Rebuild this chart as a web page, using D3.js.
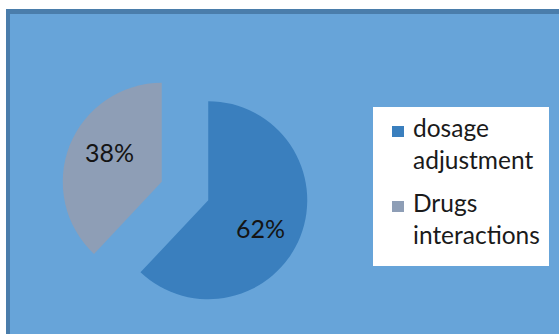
<!DOCTYPE html>
<html>
<head>
<meta charset="utf-8">
<script src="https://cdn.jsdelivr.net/npm/d3@7"></script>
<style>
  html, body { margin: 0; padding: 0; background: #fff; }
  svg { display: block; font-family: Lato, 'Open Sans', sans-serif; }
</style>
</head>
<body>
<svg id="chart" width="559" height="334"></svg>
<script>
    'use strict';

    // data
    var categories = ['dosage adjustment', 'Drugs interactions'];
    var legendLines = [['dosage', 'adjustment'], ['Drugs', 'interactions']];
    var shares = [62, 38];
    var colors = ['#3a7fbe', '#8e9eb6'];

    var svg = d3.select('#chart');

    /******************************************************************
        chart area: dark frame on top and left, light fill
     ******************************************************************/
    svg.append('rect')
        .attr('x', 6).attr('y', 9)
        .attr('width', 600).attr('height', 400)
        .attr('fill', '#4a7dab');

    svg.append('rect')
        .attr('x', 10).attr('y', 14)
        .attr('width', 600).attr('height', 400)
        .attr('fill', '#67a4d9');

    /******************************************************************
        exploded pie
     ******************************************************************/
    var cx = 185, cy = 191, r = 99, explode = 25;

    var pie = d3.pie().sort(null).value(function(d) { return d; });
    var arc = d3.arc().innerRadius(0).outerRadius(r);
    // labels sit a little past the slice middle, as in the picture
    var labelShift = 0.12;
    var labelArc = d3.arc().innerRadius(r * 0.6).outerRadius(r * 0.6);

    var slices = svg.append('g')
        .attr('transform', 'translate(' + [cx, cy] + ')')
        .selectAll('g')
        .data(pie(shares))
        .enter().append('g')
            .attr('transform', function(d) {
                var a = (d.startAngle + d.endAngle) / 2;
                return 'translate(' + [Math.sin(a) * explode, -Math.cos(a) * explode] + ')';
            });

    slices.append('path')
        .attr('d', arc)
        .attr('fill', function(d, i) { return colors[i]; });

    slices.append('text')
        .attr('transform', function(d) {
            var c = labelArc.centroid({
                startAngle: d.startAngle + labelShift,
                endAngle: d.endAngle + labelShift
            });
            return 'translate(' + c + ')';
        })
        .attr('text-anchor', 'middle')
        .attr('dy', '0.36em')
        .attr('font-size', 25)
        .attr('fill', '#141414')
        .text(function(d) { return d.value + '%'; });

    /******************************************************************
        legend
     ******************************************************************/
    var legend = svg.append('g');

    legend.append('rect')
        .attr('x', 373).attr('y', 107)
        .attr('width', 176).attr('height', 159)
        .attr('fill', '#fff');

    var items = legend.selectAll('.item')
        .data(categories)
        .enter().append('g')
            .attr('class', 'item')
            .attr('transform', function(d, i) { return 'translate(' + [392, 137 + i * 75] + ')'; });

    items.append('rect')
        .attr('x', 0).attr('y', -11)
        .attr('width', 12).attr('height', 11)
        .attr('fill', function(d, i) { return colors[i]; });

    items.append('text')
        .attr('font-size', 24.5)
        .attr('fill', '#1a1a1a')
        .selectAll('tspan')
        .data(function(d, i) { return legendLines[i]; })
        .enter().append('tspan')
            .attr('x', 21)
            .attr('y', function(d, j) { return j * 32; })
            .text(function(d) { return d; });
</script>
</body>
</html>
